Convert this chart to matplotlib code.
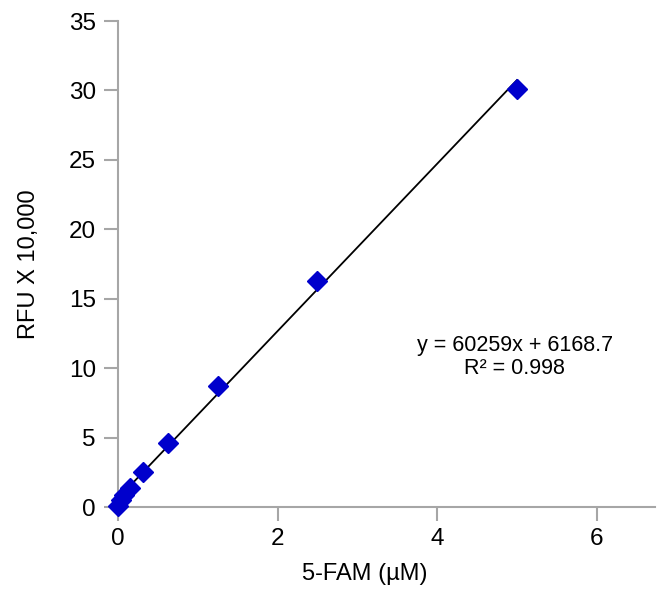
import matplotlib.pyplot as plt
import numpy as np

# Standard curve of 5-FAM: concentration (uM) vs RFU (in units of 10,000)
conc = [0, 0.039, 0.078, 0.156, 0.3125, 0.625, 1.25, 2.5, 5]
rfu = [0.1, 0.5, 0.9, 1.4, 2.5, 4.6, 8.7, 16.3, 30.1]

# Trendline from the reported fit (RFU = slope*x + intercept)
slope = 60259
intercept = 6168.7
r_squared = 0.998
scale = 10000

plt.rcParams['font.family'] = ['Liberation Sans', 'DejaVu Sans']

fig = plt.figure(figsize=(6.6, 5.98), dpi=100)
ax = fig.add_axes([118 / 660, 91 / 598, 537 / 660, 486 / 598])

x_fit = np.array([0, 5])
ax.plot(x_fit, (slope * x_fit + intercept) / scale, color='black', lw=1.3, zorder=2)
ax.plot(conc, rfu, linestyle='none', marker='D', markersize=10.5,
        color='#0000CC', zorder=3, clip_on=False)

ax.set_xlim(0, 6.73)
ax.set_ylim(0, 35)
ax.set_xticks([0, 2, 4, 6])
ax.set_yticks(range(0, 36, 5))

for side in ['top', 'right']:
    ax.spines[side].set_visible(False)
for side in ['left', 'bottom']:
    ax.spines[side].set_color('#a6a6a6')
    ax.spines[side].set_linewidth(1.5)
ax.tick_params(axis='both', direction='out', length=10, width=1.5,
               color='#a6a6a6', labelsize=17.5)
ax.tick_params(axis='y', pad=6)
ax.tick_params(axis='x', pad=5)

ax.set_xlabel('5-FAM (µM)', fontsize=17)
ax.set_ylabel('RFU X 10,000', fontsize=17)
ax.xaxis.set_label_coords(0.46, -0.115, transform=ax.transAxes)
ax.yaxis.set_label_coords(-0.146, 0.5, transform=ax.transAxes)
ax.xaxis.label.set_va('top')

ax.text(4.97, 10.8, f'y = {slope}x + {intercept}\nR² = {r_squared}',
        ha='center', va='center', fontsize=15.5, linespacing=1.15)

fig.savefig('out.png', dpi=100)
